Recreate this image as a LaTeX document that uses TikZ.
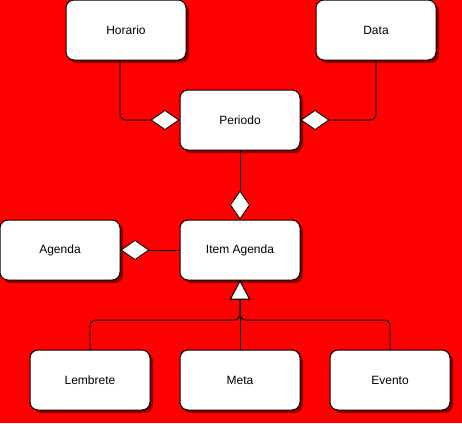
\documentclass[tikz,border=0pt]{standalone}
\usepackage{fontspec}
\setmainfont{Liberation Sans}
\usetikzlibrary{arrows.meta,shadows}
\begin{document}
\begin{tikzpicture}[x=1pt,y=-1pt,line width=1pt,
  classbox/.style={draw,fill=white,rounded corners=8pt,minimum width=120pt,minimum height=60pt,
    inner sep=0pt,font=\fontsize{12}{14}\selectfont,
    drop shadow={shadow xshift=3pt,shadow yshift=-3pt,fill=black,opacity=0.45}},
  agg/.style={rounded corners=6pt,-{Diamond[fill=white,length=29pt,width=20pt,line width=0.8pt]}},
  inh/.style={rounded corners=6pt,-{Triangle[fill=white,length=19pt,width=20pt,line width=0.8pt]}}]
  \fill[red] (0,0) rectangle (462,423);
  \useasboundingbox (0,0) rectangle (462,423);
  % classes
  \node[classbox] (horario) at (126,30) {Horario};
  \node[classbox] (data) at (376,30) {Data};
  \node[classbox] (periodo) at (240,120) {Periodo};
  \node[classbox] (agenda) at (60,250) {Agenda};
  \node[classbox] (item) at (240,250) {Item Agenda};
  \node[classbox] (lembrete) at (90,380) {Lembrete};
  \node[classbox] (meta) at (240,380) {Meta};
  \node[classbox] (evento) at (390,380) {Evento};
  \coordinate (join) at (240,320);
  % aggregations
  \draw[agg] ([xshift=-6pt]horario.south) |- (periodo.west);
  \draw[agg] (data.south) |- (periodo.east);
  \draw[agg] (periodo.south) -- (item.north);
  \draw[agg] (item.west) -- (agenda.east);
  % inheritance
  \draw[inh] (lembrete.north) |- (join) -- (item.south);
  \draw[inh] (evento.north) |- (join) -- (item.south);
  \draw[inh] (meta.north) -- (item.south);
\end{tikzpicture}
\end{document}
